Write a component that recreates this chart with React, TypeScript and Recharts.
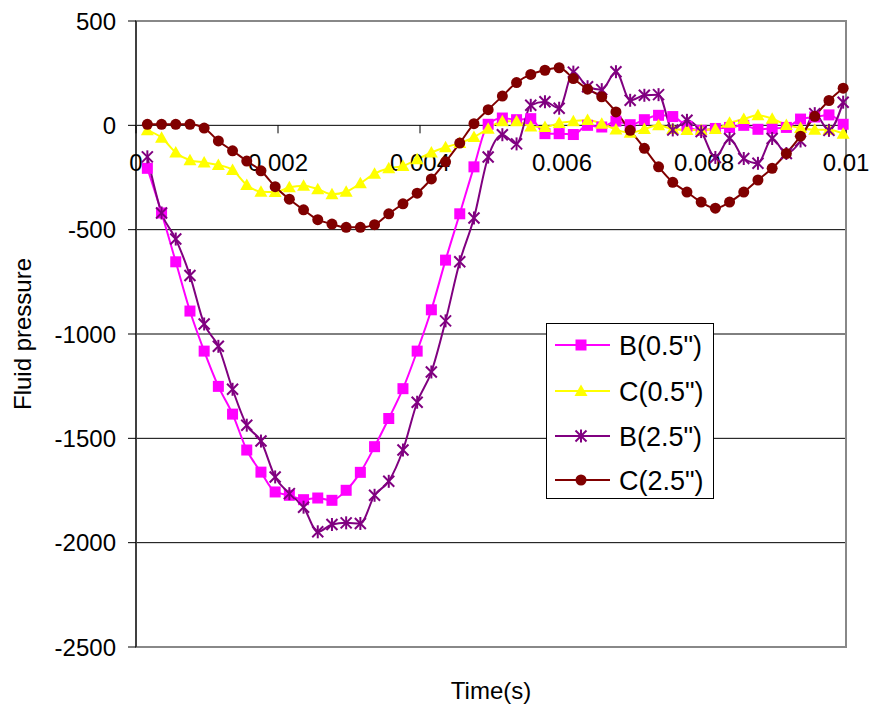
import {
  LineChart,
  Line,
  XAxis,
  YAxis,
  CartesianGrid,
  Legend,
  ReferenceArea,
  ReferenceDot,
} from "recharts";

// time (s) of each sample
const times: number[] = [
  0.00016, 0.00036, 0.00056, 0.00076, 0.00096, 0.00116, 0.00136, 0.00156, 0.00176, 0.00196,
  0.00216, 0.00236, 0.00256, 0.00276, 0.00296, 0.00316, 0.00336, 0.00356, 0.00376, 0.00396,
  0.00416, 0.00436, 0.00456, 0.00476, 0.00496, 0.00516, 0.00536, 0.00556, 0.00576, 0.00596,
  0.00616, 0.00636, 0.00656, 0.00676, 0.00696, 0.00716, 0.00736, 0.00756, 0.00776, 0.00796,
  0.00816, 0.00836, 0.00856, 0.00876, 0.00896, 0.00916, 0.00936, 0.00956, 0.00976, 0.00996,
];

const bHalf: number[] = [
  -206, -420, -654, -890, -1082, -1251, -1384, -1556, -1662, -1757,
  -1773, -1794, -1786, -1797, -1749, -1663, -1540, -1405, -1262, -1082,
  -884, -646, -424, -199, 5, 35, 27, 32, -40, -40,
  -44, 0, -8, 20, 3, 27, 48, 42, -5, -24,
  -15, -10, 0, -19, -15, -10, 30, 40, 50, 5,
];

const cHalf: number[] = [
  -24, -59, -130, -167, -178, -190, -214, -286, -318, -320,
  -297, -289, -306, -330, -318, -278, -232, -206, -195, -163,
  -130, -105, -85, -56, -16, 20, 20, -5, -8, 11,
  20, 26, 8, -20, -36, -18, 0, -18, -22, -22,
  -18, 12, 30, 48, 32, 2, -13, -21, -21, -40,
];

const bTwo: number[] = [
  -151, -420, -545, -720, -952, -1059, -1265, -1437, -1513, -1685,
  -1765, -1830, -1948, -1913, -1905, -1908, -1773, -1706, -1556, -1327,
  -1182, -937, -654, -444, -152, -45, -89, 96, 113, 82,
  255, 185, 171, 257, 120, 144, 147, -22, 24, -30,
  -154, -63, -159, -182, -63, -135, -75, 56, -24, 111,
];

const cTwo: number[] = [
  5, 5, 5, 5, -13, -75, -122, -171, -218, -294,
  -354, -405, -452, -473, -489, -489, -476, -424, -376, -325,
  -257, -175, -85, 8, 75, 140, 205, 244, 264, 276,
  224, 173, 137, 64, -24, -110, -199, -273, -320, -368,
  -397, -368, -320, -262, -206, -135, -52, 43, 119, 178,
];

const xTicks: number[] = [0, 0.002, 0.004, 0.006, 0.008, 0.01];
const xTickLabels: string[] = ["0", "0.002", "0.004", "0.006", "0.008", "0.01"];
const yTicks: number[] = [-2500, -2000, -1500, -1000, -500, 0, 500];
const gridValues: number[] = [500, 0, -500, -1000, -1500, -2000];

const data = times.map((t, i) => ({
  t,
  bHalf: bHalf[i],
  cHalf: cHalf[i],
  bTwo: bTwo[i],
  cTwo: cTwo[i],
}));

const FONT = '"Liberation Sans", Arial, sans-serif';

const MAGENTA = "#FF00FF";
const YELLOW = "#FFFF00";
const PURPLE = "#800080";
const MAROON = "#800000";

const Square = ({ cx, cy }: { cx: number; cy: number }) => (
  <rect x={cx - 5.5} y={cy - 5.5} width={11} height={11} fill={MAGENTA} />
);
const Triangle = ({ cx, cy }: { cx: number; cy: number }) => (
  <polygon
    points={`${cx},${cy - 6.5} ${cx - 6.5},${cy + 5} ${cx + 6.5},${cy + 5}`}
    fill={YELLOW}
  />
);
const Star = ({ cx, cy }: { cx: number; cy: number }) => (
  <g stroke={PURPLE} strokeWidth={2}>
    <line x1={cx} y1={cy - 6.5} x2={cx} y2={cy + 6.5} />
    <line x1={cx - 5.5} y1={cy - 5.5} x2={cx + 5.5} y2={cy + 5.5} />
    <line x1={cx - 5.5} y1={cy + 5.5} x2={cx + 5.5} y2={cy - 5.5} />
  </g>
);
const Circle = ({ cx, cy }: { cx: number; cy: number }) => (
  <circle cx={cx} cy={cy} r={5.5} fill={MAROON} />
);

const dotOf = (Shape: any) => (props: any) => {
  const { cx, cy, key } = props;
  if (cx == null || cy == null) return <g key={key} />;
  return (
    <g key={key}>
      <Shape cx={cx} cy={cy} />
    </g>
  );
};

const seriesList = [
  { key: "bHalf", name: 'B(0.5")', color: MAGENTA, Shape: Square },
  { key: "cHalf", name: 'C(0.5")', color: YELLOW, Shape: Triangle },
  { key: "bTwo", name: 'B(2.5")', color: PURPLE, Shape: Star },
  { key: "cTwo", name: 'C(2.5")', color: MAROON, Shape: Circle },
];

const LegendBox = () => {
  const rows = [22, 68, 113, 157];
  return (
    <svg width={168} height={176} style={{ display: "block" }}>
      <rect x={0.5} y={0.5} width={167} height={175} fill="#fff" stroke="#000" />
      {seriesList.map((s, i) => (
        <g key={s.key}>
          <line x1={9} x2={64} y1={rows[i]} y2={rows[i]} stroke={s.color} strokeWidth={2} />
          <s.Shape cx={35} cy={rows[i]} />
          <text x={73} y={rows[i] + 10} fontSize={27} fontFamily={FONT} fill="#000">
            {s.name}
          </text>
        </g>
      ))}
    </svg>
  );
};

const XTickLabel = ({ viewBox, value }: any) => {
  const x = viewBox.x + viewBox.width / 2;
  const y = viewBox.y + viewBox.height / 2;
  return (
    <g>
      <line x1={x} x2={x} y1={y} y2={y + 8} stroke="#000" />
      <text x={x} y={y + 46} textAnchor="middle" fontSize={24} fontFamily={FONT} fill="#000">
        {value}
      </text>
    </g>
  );
};

export default function App() {
  return (
    <div style={{ position: "absolute", left: 0, top: 0, background: "#fff" }}>
      <LineChart
        width={873}
        height={710}
        data={data}
        margin={{ top: 21, right: 27, bottom: 0, left: 0 }}
        style={{ fontFamily: FONT }}
      >
        <CartesianGrid vertical={false} stroke="#000" horizontalValues={gridValues} />
        <ReferenceArea
          x1={0}
          x2={0.01}
          y1={-2500}
          y2={500}
          fill="none"
          stroke="#888"
          strokeWidth={2}
        />
        <XAxis
          dataKey="t"
          type="number"
          domain={[0, 0.01]}
          ticks={xTicks}
          tick={false}
          axisLine={false}
          tickLine={false}
          height={63}
          label={{
            value: "Time(s)",
            position: "center",
            dy: 12,
            fontSize: 24,
            fill: "#000",
            fontFamily: FONT,
          }}
        />
        <YAxis
          type="number"
          domain={[-2500, 500]}
          ticks={yTicks}
          interval={0}
          width={136}
          tickSize={8}
          tickMargin={12}
          axisLine={{ stroke: "#404040", strokeWidth: 2 }}
          tickLine={{ stroke: "#000" }}
          tick={{ fontSize: 24, fill: "#000", fontFamily: FONT }}
          label={{
            value: "Fluid pressure",
            angle: -90,
            position: "center",
            dx: -46,
            fontSize: 24,
            fill: "#000",
            fontFamily: FONT,
          }}
        />
        {xTicks.map((t, i) => (
          <ReferenceDot
            key={t}
            x={t}
            y={0}
            r={0.5}
            fill="none"
            stroke="none"
            label={<XTickLabel value={xTickLabels[i]} />}
          />
        ))}
        {seriesList.map((s) => (
          <Line
            key={s.key}
            dataKey={s.key}
            name={s.name}
            type="monotone"
            stroke={s.color}
            strokeWidth={2}
            dot={dotOf(s.Shape)}
            activeDot={false}
            isAnimationActive={false}
          />
        ))}
        <Legend
          layout="vertical"
          align="center"
          verticalAlign="middle"
          content={() => <LegendBox />}
          wrapperStyle={{ left: 546, top: 323, width: 168, height: 176 }}
        />
      </LineChart>
    </div>
  );
}
